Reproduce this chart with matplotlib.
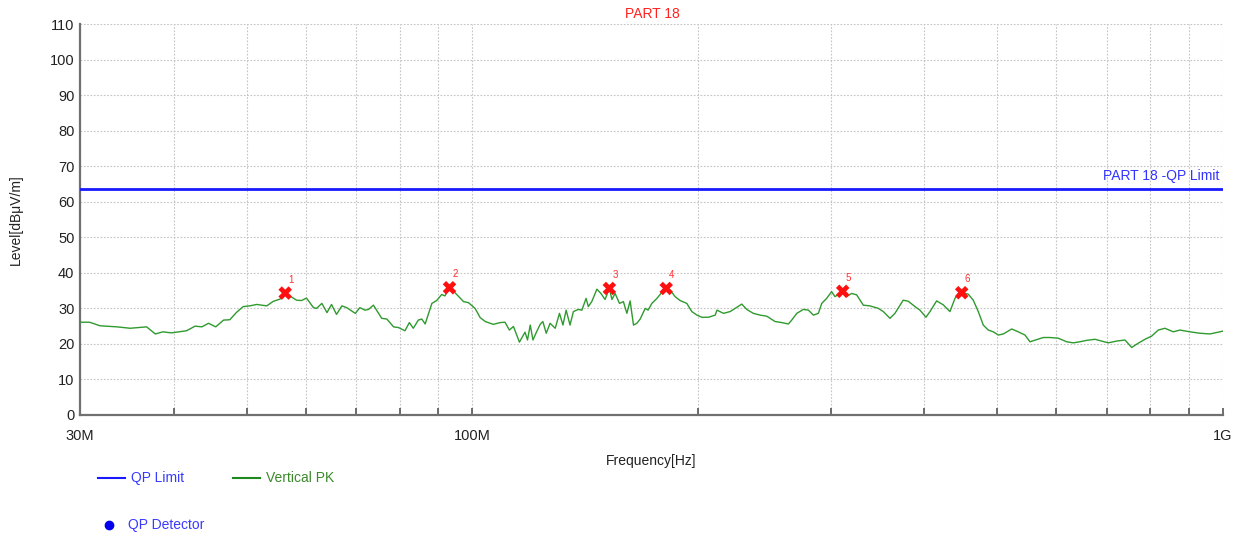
import matplotlib
matplotlib.use("Agg")
import matplotlib.pyplot as plt
from matplotlib.lines import Line2D
from matplotlib.ticker import FixedLocator, NullFormatter, FixedFormatter

plt.rcParams['font.family'] = ['Liberation Sans', 'DejaVu Sans']

# ---------------- data ----------------
title = "PART 18"
limit_label = "PART 18 -QP Limit"
limit_level = 63.5  # dBuV/m

trace_freq_mhz = [
    30.0, 30.9, 31.9, 33.6, 35.0, 36.8, 37.8, 38.7, 39.7, 41.6, 42.7, 43.6, 44.5, 45.5,
    46.6, 47.5, 48.5, 49.5, 50.5, 51.6, 53.2, 54.3, 55.4, 56.3, 57.1, 58.3, 59.2, 60.1,
    61.4, 62.0, 63.0, 64.0, 64.9, 65.9, 67.0, 68.0, 69.8, 70.8, 71.9, 72.7, 73.8, 75.7,
    76.9, 78.5, 79.7, 81.3, 82.4, 83.4, 84.7, 85.6, 86.5, 88.3, 89.6, 91.0, 91.9, 93.2,
    94.8, 97.3, 98.8, 100.8, 102.4, 104.0, 106.6, 108.9, 110.5, 112.0, 113.4, 115.5,
    117.5, 118.4, 119.4, 120.4, 121.8, 123.1, 124.1, 125.4, 126.9, 128.9, 130.6, 132.0,
    133.3, 134.9, 136.3, 138.4, 139.9, 141.7, 142.7, 144.2, 146.5, 148.3, 150.2, 152.2,
    153.4, 154.9, 157.0, 158.9, 160.6, 162.2, 163.9, 165.6, 167.3, 169.9, 171.4, 173.4,
    176.1, 178.8, 181.2, 183.4, 186.2, 189.1, 193.0, 196.0, 199.1, 202.1, 206.3, 210.6,
    211.7, 216.0, 220.5, 225.0, 228.5, 232.0, 236.7, 241.7, 246.7, 253.0, 258.3, 263.6,
    266.3, 270.5, 276.0, 280.3, 284.6, 289.0, 292.0, 296.4, 301.0, 304.1, 308.8, 311.4,
    315.2, 320.1, 325.0, 331.7, 338.5, 347.3, 352.7, 360.0, 365.5, 374.9, 380.8, 388.7,
    394.7, 402.0, 407.0, 415.4, 423.9, 432.7, 439.4, 443.9, 448.6, 457.7, 464.8, 472.0,
    479.3, 486.7, 494.3, 501.9, 509.7, 523.0, 533.6, 544.7, 553.1, 564.6, 576.2, 588.2,
    603.3, 619.0, 631.7, 644.8, 658.2, 675.1, 689.2, 703.3, 721.7, 740.3, 755.6, 771.1,
    787.1, 803.5, 819.9, 836.9, 858.5, 876.3, 903.6, 931.8, 960.8, 1000.0,
]
trace_level = [
    26.1, 26.1, 25.1, 24.8, 24.4, 24.8, 22.8, 23.4, 23.1, 23.7, 25.0, 24.8, 25.8, 24.8,
    26.7, 26.8, 28.9, 30.5, 30.7, 31.1, 30.7, 32.0, 32.6, 34.2, 33.5, 32.3, 32.2, 32.9,
    30.2, 30.0, 31.4, 28.8, 31.1, 28.3, 30.7, 30.2, 28.6, 30.2, 29.5, 29.7, 30.9, 27.2,
    27.0, 24.8, 24.6, 23.7, 26.0, 24.4, 26.7, 27.0, 25.6, 31.4, 32.2, 33.9, 33.5, 35.9,
    34.4, 31.9, 31.6, 30.0, 27.4, 26.3, 25.5, 26.0, 26.1, 23.9, 24.9, 20.5,
    23.3, 21.1, 25.3, 21.1, 23.5, 25.5, 26.3, 23.0, 25.8, 24.4, 28.6, 25.3,
    29.5, 25.3, 29.1, 29.7, 29.5, 32.8, 30.5, 31.9, 35.4, 34.2, 32.5, 35.6,
    32.5, 34.2, 31.4, 31.9, 28.6, 32.1, 25.3, 25.8, 27.0, 30.0, 29.5, 31.4,
    32.8, 34.5, 35.6, 35.2, 33.3, 32.2, 31.4, 29.1, 28.1, 27.5, 27.5, 28.1,
    29.5, 28.6, 29.1, 30.3, 31.2, 29.7, 28.6, 28.1, 27.8, 26.3, 26.0, 25.6,
    26.7, 28.6, 29.7, 29.5, 28.1, 28.6, 31.4, 32.8, 34.7, 33.3, 34.2, 35.0,
    33.3, 34.2, 33.8, 30.9, 30.7, 30.0, 29.1, 27.2, 28.6, 32.3, 32.0, 30.5,
    29.5, 27.5, 29.1, 32.1, 31.0, 29.1, 32.8, 34.2, 34.4, 34.0, 32.3, 29.1,
    25.3, 23.9, 23.4, 22.5, 22.8, 24.2, 23.4, 22.5, 20.6, 21.2, 21.8, 21.8,
    21.6, 20.6, 20.3, 20.6, 21.0, 21.3, 20.8, 20.3, 20.8, 21.1, 19.0, 20.2,
    21.3, 22.2, 23.9, 24.4, 23.4, 23.9, 23.4, 23.0, 22.8, 23.6,
]

marker_ids = ["1", "2", "3", "4", "5", "6"]
marker_freq_mhz = [56.3, 93.2, 152.2, 181.2, 311.4, 448.6]
marker_level = [34.3, 35.8, 35.6, 35.6, 34.8, 34.4]

x_tick_pos = [30, 100, 1000]
x_tick_labels = ["30M", "100M", "1G"]
x_grid_pos = [40, 50, 60, 70, 80, 90, 200, 300, 400, 500, 600, 700, 800, 900]
y_ticks = list(range(0, 111, 10))

# ---------------- figure ----------------
W, H = 1239, 538
fig = plt.figure(figsize=(W / 100, H / 100), dpi=100)
ax = fig.add_axes([80 / W, 1 - 415 / H, (1223 - 80) / W, (415 - 24) / H])

ax.set_xscale('log')
ax.set_xlim(30, 1000)
ax.set_ylim(0, 110)

grid_kw = dict(color='#c4c4c4', linestyle=(0, (1.5, 1.5)), linewidth=0.8)
ax.xaxis.set_major_locator(FixedLocator(x_tick_pos))
ax.xaxis.set_major_formatter(FixedFormatter(x_tick_labels))
ax.xaxis.set_minor_locator(FixedLocator(x_grid_pos))
ax.xaxis.set_minor_formatter(NullFormatter())
ax.set_yticks(y_ticks)
ax.grid(True, which='both', axis='x', **grid_kw)
ax.grid(True, which='major', axis='y', **grid_kw)
ax.set_axisbelow(True)

for s in ['top', 'right']:
    ax.spines[s].set_visible(False)
for s in ['left', 'bottom']:
    ax.spines[s].set_color('#707070')
    ax.spines[s].set_linewidth(1.6)

ax.tick_params(axis='x', which='both', direction='in', length=5, width=1.2,
               color='#555555', labelsize=10.5, pad=10, labelcolor='#222222')
ax.tick_params(axis='y', which='both', length=0, labelsize=10.5, pad=4,
               labelcolor='#222222')

# limit line
ax.axhline(limit_level, color='#1a1aff', linewidth=2.0, zorder=3)
ax.text(0.997, limit_level + 1.8, limit_label, transform=ax.get_yaxis_transform(),
        ha='right', va='bottom', color='#3333ff', fontsize=10)

# trace
ax.plot(trace_freq_mhz, trace_level, color='#2f9a2f', linewidth=1.0, zorder=4)

# markers
ax.scatter(marker_freq_mhz, marker_level, marker='X', s=95, color='#ff1010',
           edgecolors='none', zorder=5)
for mid, f, l in zip(marker_ids, marker_freq_mhz, marker_level):
    ax.annotate(mid, (f, l), xytext=(4, 6), textcoords='offset points',
                color='#ff3030', fontsize=7, ha='center', va='bottom')

ax.set_xlabel("Frequency[Hz]", fontsize=10, labelpad=8, color='#222222')
fig.text(16 / W, 1 - 220 / H, "Level[dBμV/m]", rotation=90, ha='center',
         va='center', fontsize=10, color='#222222')
fig.text(652 / W, 1 - 14 / H, title, ha='center', va='center', color='#ff2020',
         fontsize=10)

# legend (manual, below the plot)
fig.add_artist(Line2D([98 / W, 125 / W], [1 - 478 / H] * 2, color='#1a1aff',
                      linewidth=1.5, transform=fig.transFigure))
fig.text(131 / W, 1 - 478 / H, "QP Limit", color='#3a3aff', fontsize=10,
         va='center', ha='left')
fig.add_artist(Line2D([233 / W, 260 / W], [1 - 478 / H] * 2, color='#1e8a1e',
                      linewidth=1.5, transform=fig.transFigure))
fig.text(266 / W, 1 - 478 / H, "Vertical PK", color='#3a8a2a', fontsize=10,
         va='center', ha='left')
fig.add_artist(Line2D([109 / W], [1 - 525 / H], marker='o', markersize=6,
                      color='#0000ee', linestyle='none', transform=fig.transFigure))
fig.text(128 / W, 1 - 525 / H, "QP Detector", color='#3a3aff', fontsize=10,
         va='center', ha='left')

fig.savefig("out.png", dpi=100)
